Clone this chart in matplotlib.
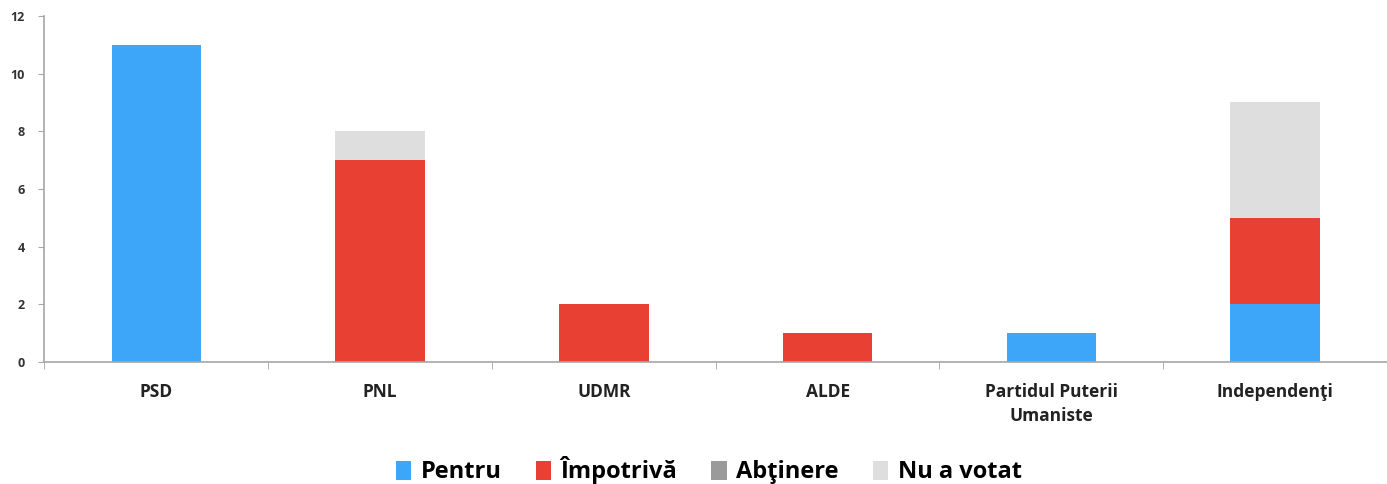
import numpy as np
import matplotlib
matplotlib.use("Agg")
import matplotlib.pyplot as plt
from matplotlib.patches import Patch

# data
categories = ["PSD", "PNL", "UDMR", "ALDE", "Partidul Puterii\nUmaniste", "Independenţi"]
pentru = [11, 0, 0, 0, 1, 2]
impotriva = [0, 7, 2, 1, 0, 3]
abtinere = [0, 0, 0, 0, 0, 0]
nu_a_votat = [0, 1, 0, 0, 0, 4]
series_names = ["Pentru", "Împotrivă", "Abţinere", "Nu a votat"]
y_ticks = [0, 2, 4, 6, 8, 10, 12]

colors = ["#3EA6F8", "#E84134", "#9A9A9A", "#DEDEDE"]
AXIS_COLOR = "#A6A6A6"

plt.rcParams["font.family"] = ["Open Sans", "DejaVu Sans"]

fig = plt.figure(figsize=(13.87, 4.84), dpi=100)
ax = fig.add_axes([0.032, 0.252, 0.968, 0.715])

x = np.arange(len(categories))
bottom = np.zeros(len(categories))
for name, vals, col in zip(series_names, [pentru, impotriva, abtinere, nu_a_votat], colors):
    ax.bar(x, vals, width=0.4, bottom=bottom, color=col, label=name)
    bottom += np.array(vals)

ax.set_xlim(-0.5, len(categories) - 0.5)
ax.set_ylim(0, 12)
ax.set_yticks(y_ticks)
ax.set_yticklabels([str(t) for t in y_ticks], fontsize=9, fontweight="bold", color="#333333")

# category labels centred, ticks at boundaries
ax.set_xticks(x)
ax.set_xticklabels(categories, fontsize=12.5, fontweight="bold", color="#222222",
                   linespacing=1.45)
ax.tick_params(axis="x", length=0, pad=15)
ax.set_xticks(np.arange(-0.5, len(categories)), minor=True)
ax.tick_params(axis="x", which="minor", length=5, color=AXIS_COLOR, direction="out")
ax.tick_params(axis="y", length=4, color=AXIS_COLOR, pad=10)

for side in ("top", "right"):
    ax.spines[side].set_visible(False)
ax.spines["left"].set_color(AXIS_COLOR)
ax.spines["bottom"].set_color(AXIS_COLOR)
ax.spines["left"].set_linewidth(1.2)
ax.spines["bottom"].set_linewidth(1.2)

handles = [Patch(facecolor=c, label=n) for n, c in zip(series_names, colors)]
fig.legend(handles=handles, loc="center", bbox_to_anchor=(0.511, 0.028), ncol=4,
           frameon=False, prop={"weight": "bold", "size": 17},
           handlelength=0.65, handleheight=0.9, handletextpad=0.4, columnspacing=1.45)

fig.savefig("out.png", dpi=100)
